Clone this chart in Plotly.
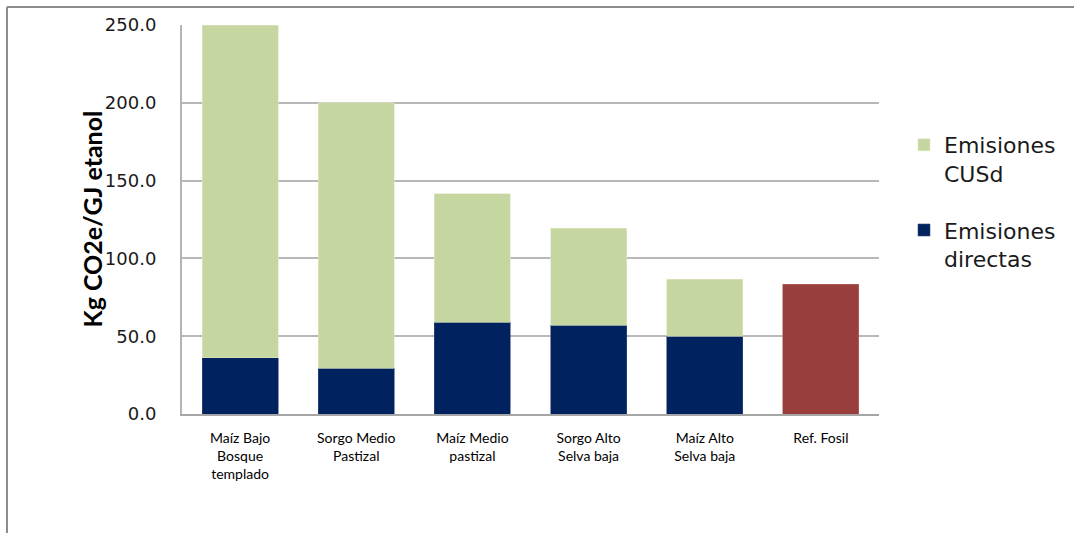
import plotly.graph_objects as go

categories = [
    "Maíz Bajo<br>Bosque<br>templado",
    "Sorgo Medio<br>Pastizal",
    "Maíz Medio<br>pastizal",
    "Sorgo Alto<br>Selva baja",
    "Maíz Alto<br>Selva baja",
    "Ref. Fosil",
]
scenario_cats = categories[:5]
emisiones_directas = [36.0, 29.5, 59.0, 57.0, 50.0]
emisiones_cusd = [214.0, 170.5, 82.5, 62.5, 36.5]
ref_fosil = [83.5]

GREEN = "#C6D6A0"
NAVY = "#00235F"
RED = "#9A3D3D"

fig = go.Figure()
fig.add_trace(go.Bar(
    x=scenario_cats, y=emisiones_directas, name="Emisiones<br>directas",
    legendgroup="directas", legendrank=2,
    marker=dict(color=NAVY, line=dict(color="#3A4E7A", width=0.6)),
))
fig.add_trace(go.Bar(
    x=scenario_cats, y=emisiones_cusd, name="Emisiones<br>CUSd",
    legendgroup="cusd", legendrank=1,
    marker=dict(color=GREEN, line=dict(color="#DDE8C4", width=0.6)),
))
fig.add_trace(go.Bar(
    x=categories[5:], y=ref_fosil, name="Ref. Fosil", showlegend=False,
    legendgroup="ref", legendrank=3,
    marker=dict(color=RED, line=dict(color="#B86A6A", width=0.6)),
))

L, R, T, B = 182, 195, 25, 119
W, H = 1074, 533
pw, ph = W - L - R, H - T - B

def px_x(px):
    return (px - L) / pw

def px_y(py):
    return (H - B - py) / ph

fig.update_layout(
    width=W, height=H,
    margin=dict(l=L, r=R, t=T, b=B, pad=0),
    barmode="stack", bargap=0.345,
    plot_bgcolor="white", paper_bgcolor="white",
    showlegend=True,
    legend=dict(
        x=px_x(904), y=px_y(202), xanchor="left", yanchor="middle",
        traceorder="grouped", tracegroupgap=25, valign="top",
        font=dict(family="DejaVu Sans", size=22, color="#1a1a1a"),
        itemwidth=30,
    ),
    xaxis=dict(
        categoryorder="array", categoryarray=categories,
        showline=True, linecolor="#A6A6A6", linewidth=2,
        ticks="", ticklabelstandoff=10,
        tickfont=dict(family="Lato", size=14, color="#000000"),
    ),
    yaxis=dict(
        range=[0, 250], dtick=50, tickformat=".1f",
        showline=True, linecolor="#B4B4B4", linewidth=2,
        showgrid=True, gridcolor="#B8B8B8", gridwidth=1.5,
        zeroline=False, ticks="", ticklabelstandoff=20,
        tickfont=dict(family="DejaVu Sans", size=18, color="#1a1a1a"),
    ),
    annotations=[dict(
        text="<b>Kg CO2e/GJ etanol</b>", textangle=-90,
        x=px_x(91), y=0.5, xref="paper", yref="paper",
        xanchor="center", yanchor="middle", showarrow=False,
        font=dict(family="Lato", size=25, color="#000000"),
    )],
    shapes=[
        dict(type="line", xref="paper", yref="paper",
             x0=px_x(7), x1=px_x(1080), y0=px_y(7), y1=px_y(7),
             line=dict(color="#8C8C8C", width=2)),
        dict(type="line", xref="paper", yref="paper",
             x0=px_x(7), x1=px_x(7), y0=px_y(7), y1=px_y(540),
             line=dict(color="#8C8C8C", width=2)),
    ],
)

fig.write_html("out.html")
